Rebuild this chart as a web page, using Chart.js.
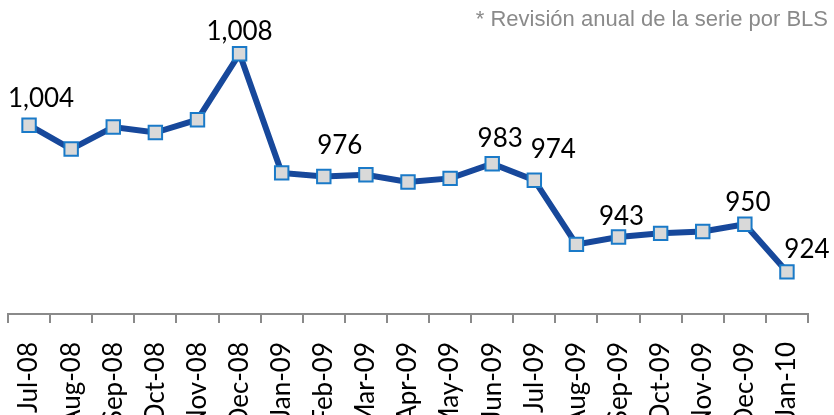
<!DOCTYPE html>
<html>
<head>
<meta charset="utf-8">
<script src="https://cdn.jsdelivr.net/npm/chart.js@4/dist/chart.umd.min.js"></script>
<style>
  html, body { margin: 0; padding: 0; background: #ffffff; }
  #wrap { width: 834px; height: 415px; position: relative; }
</style>
</head>
<body>
<div id="wrap"><canvas id="c" width="834" height="415"></canvas></div>
<script>
// ---- data ----
const categories = ['Jul-08','Aug-08','Sep-08','Oct-08','Nov-08','Dec-08','Jan-09','Feb-09','Mar-09','Apr-09','May-09','Jun-09','Jul-09','Aug-09','Sep-09','Oct-09','Nov-09','Dec-09','Jan-10'];
const values = [1004, 991, 1003, 1000, 1007, 1043, 978, 976, 977, 973, 975, 983, 974, 939, 943, 945, 946, 950, 924];
const pointLabels = ['1,004', null, null, null, null, '1,008', null, '976', null, null, null, '983', '974', null, '943', null, null, '950', '924'];
const noteText = '* Revisión anual de la serie por BLS';

// label placement relative to each point (dx, dy of baseline centre)
const labelShift = {0:[12,-18], 5:[0,-14], 7:[16,-23], 11:[8,-17], 12:[19,-22], 14:[3,-12], 17:[3,-13], 18:[20,-14]};

const labelPlugin = {
  id: 'labelPlugin',
  afterDatasetsDraw(chart) {
    const ctx = chart.ctx;
    const meta = chart.getDatasetMeta(0);
    ctx.save();
    ctx.font = '26px Lato';
    ctx.fillStyle = '#000000';
    ctx.textAlign = 'center';
    ctx.textBaseline = 'alphabetic';
    meta.data.forEach((pt, i) => {
      const txt = pointLabels[i];
      if (!txt) return;
      const s = labelShift[i] || [0, -16];
      ctx.fillText(txt, pt.x + s[0], pt.y + s[1]);
    });
    ctx.restore();
  },
  afterDraw(chart) {
    const ctx = chart.ctx;
    ctx.save();
    ctx.font = '22px "Liberation Sans"';
    ctx.fillStyle = '#8A8A8A';
    ctx.textAlign = 'right';
    ctx.textBaseline = 'alphabetic';
    ctx.fillText(noteText, 828, 26);
    ctx.restore();
  }
};

new Chart(document.getElementById('c'), {
  type: 'line',
  data: {
    labels: categories,
    datasets: [{
      data: values,
      borderColor: '#17489B',
      borderWidth: 6,
      tension: 0,
      pointStyle: 'rect',
      pointRadius: 9.5,
      pointHoverRadius: 9.5,
      pointBackgroundColor: '#D9D9D9',
      pointBorderColor: '#1A7AC8',
      pointBorderWidth: 2,
      clip: false
    }]
  },
  options: {
    responsive: false,
    animation: false,
    events: [],
    layout: { autoPadding: false, padding: { top: 20, left: 8, right: 26, bottom: 0 } },
    plugins: { legend: { display: false }, tooltip: { enabled: false }, title: { display: false } },
    scales: {
      y: { display: false, min: 901, max: 1061.4 },
      x: {
        offset: true,
        afterFit(scale) { scale.height = 101; scale.paddingLeft = 0; scale.paddingRight = 0; },
        grid: { display: true, drawOnChartArea: false, drawTicks: true, tickLength: 9, color: '#8A8A8A', lineWidth: 2, offset: true },
        border: { display: true, color: '#8A8A8A', width: 2 },
        ticks: {
          autoSkip: false,
          maxRotation: 90,
          minRotation: 90,
          padding: 19,
          color: '#000000',
          font: { family: 'Lato', size: 26 }
        }
      }
    }
  },
  plugins: [labelPlugin]
});
</script>
</body>
</html>
